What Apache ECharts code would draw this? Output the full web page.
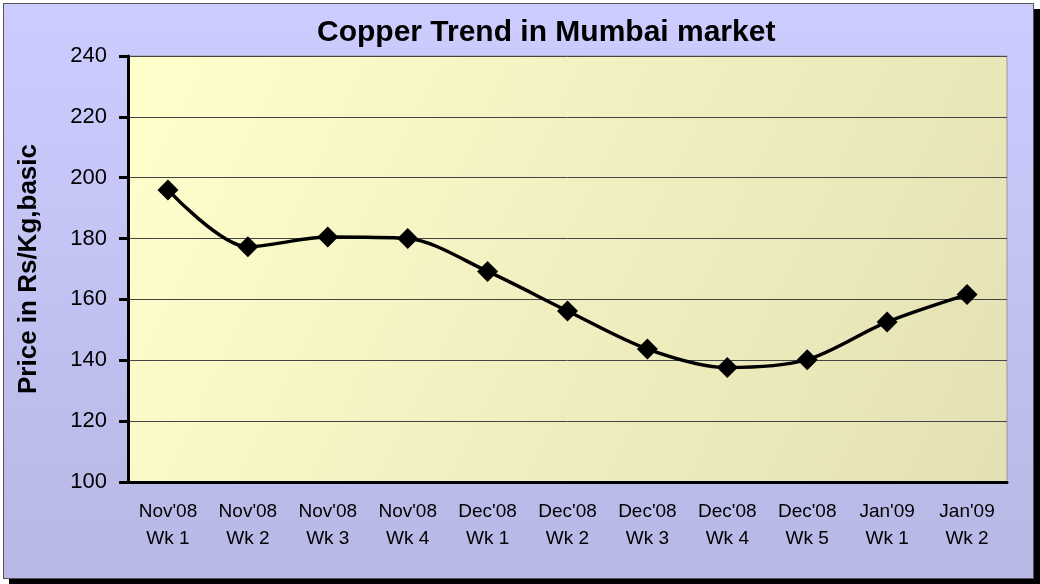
<!DOCTYPE html>
<html>
<head>
<meta charset="utf-8">
<script src="https://cdn.jsdelivr.net/npm/echarts@6/dist/echarts.min.js"></script>
<style>
    html, body { margin: 0; padding: 0; background: #fff; }
    #frame {
        position: absolute; left: 3px; top: 3px; width: 1029px; height: 574px;
        border: 1px solid #555;
        background: linear-gradient(to bottom, #ccccff, #b8b8e6);
        box-shadow: 6px 6px 0 #000;
    }
    #chart { position: absolute; left: 0; top: 0; width: 1040px; height: 584px; }
</style>
</head>
<body>
<div id="frame"></div>
<div id="chart"></div>
<script>
// 周次
var weeks = ["Nov'08\nWk 1", "Nov'08\nWk 2", "Nov'08\nWk 3", "Nov'08\nWk 4",
    "Dec'08\nWk 1", "Dec'08\nWk 2", "Dec'08\nWk 3", "Dec'08\nWk 4", "Dec'08\nWk 5",
    "Jan'09\nWk 1", "Jan'09\nWk 2"];
// 价格 Rs/Kg
var prices = [196, 177.3, 180.5, 180, 169.2, 156.2, 143.7, 137.6, 140.2, 152.6, 161.6];

var chart = echarts.init(document.getElementById('chart'));
chart.setOption({
    animation: false,
    title: {
        text: 'Copper Trend in Mumbai market',
        left: 312,
        top: 13,
        textStyle: {fontFamily: 'Liberation Sans', fontSize: 30, fontWeight: 'bold', color: '#000'}
    },
    grid: {
        left: 128, top: 56, right: 33, bottom: 102,
        show: true,
        borderColor: '#999',
        borderWidth: 1,
        backgroundColor: new echarts.graphic.LinearGradient(0, 0, 1, 1, [
            {offset: 0, color: '#ffffcc'},
            {offset: 1, color: '#e4e0b4'}
        ])
    },
    xAxis: {
        type: 'category',
        data: weeks,
        boundaryGap: true,
        axisLine: {lineStyle: {color: '#000', width: 3}},
        axisTick: {length: 6, lineStyle: {color: '#000', width: 3}},
        axisLabel: {
            margin: 16, color: '#000', fontFamily: 'Liberation Sans', fontSize: 19, lineHeight: 27
        }
    },
    yAxis: {
        type: 'value',
        min: 100, max: 240, interval: 20,
        name: 'Price in Rs/Kg,basic',
        nameLocation: 'middle',
        nameGap: 86,
        nameTextStyle: {fontFamily: 'Liberation Sans', fontSize: 26, fontWeight: 'bold', color: '#000'},
        axisLine: {show: true, lineStyle: {color: '#000', width: 3}},
        axisTick: {show: true, length: 9, lineStyle: {color: '#000', width: 3}},
        axisLabel: {margin: 21, color: '#000', fontFamily: 'Liberation Sans', fontSize: 22},
        splitLine: {lineStyle: {color: '#444', width: 1}}
    },
    series: [{
        type: 'line',
        data: prices,
        smooth: 0.3,
        symbol: 'diamond',
        symbolSize: 21,
        lineStyle: {color: '#000', width: 3.5},
        itemStyle: {color: '#000'}
    }]
});
</script>
</body>
</html>
